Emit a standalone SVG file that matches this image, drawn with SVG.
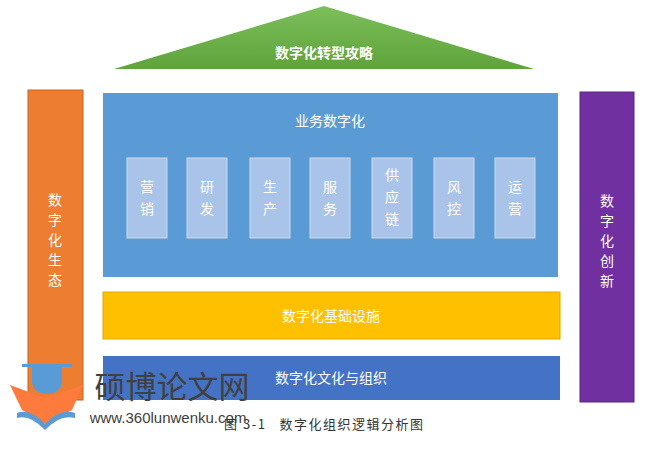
<svg xmlns="http://www.w3.org/2000/svg" width="658" height="454" viewBox="0 0 658 454">
<defs>
<linearGradient id="g" x1="0" y1="0" x2="0" y2="1"><stop offset="0" stop-color="#7cbf5a"/><stop offset="1" stop-color="#5fa33c"/></linearGradient>
<style>
text{font-family:"Noto Sans CJK SC","Liberation Sans",sans-serif;fill:#fff;text-anchor:middle}
.s{fill:#a9c4e8;stroke:#c9daf0;stroke-width:1}
.t{font-size:14px}
</style>
</defs>
<rect width="658" height="454" fill="#fff"/>
<g id="roof"><polygon points="114,69 324,6 534,69" fill="url(#g)"/><text x="324" y="58" font-size="14" font-weight="bold">数字化转型攻略</text></g>
<g id="eco"><rect x="28" y="90" width="55" height="310" fill="#ed7d31" stroke="#c5651f"/><text class="t" x="55" y="205">数</text><text class="t" x="55" y="225">字</text><text class="t" x="55" y="245">化</text><text class="t" x="55" y="265">生</text><text class="t" x="55" y="285">态</text></g>
<g id="innov"><rect x="580" y="92" width="54" height="310" fill="#7030a0" stroke="#5a2484"/><text class="t" x="607" y="206">数</text><text class="t" x="607" y="226">字</text><text class="t" x="607" y="246">化</text><text class="t" x="607" y="266">创</text><text class="t" x="607" y="286">新</text></g>
<g id="biz"><rect x="103" y="93" width="455" height="184" fill="#5b9bd5"/><text class="t" x="330" y="126">业务数字化</text></g>
<g id="m1"><rect class="s" x="127" y="158" width="40" height="80"/><text class="t" x="147" y="192">营</text><text class="t" x="147" y="214">销</text></g>
<g id="m2"><rect class="s" x="187" y="158" width="40" height="80"/><text class="t" x="207" y="192">研</text><text class="t" x="207" y="214">发</text></g>
<g id="m3"><rect class="s" x="250" y="158" width="40" height="80"/><text class="t" x="270" y="192">生</text><text class="t" x="270" y="214">产</text></g>
<g id="m4"><rect class="s" x="310" y="158" width="40" height="80"/><text class="t" x="330" y="192">服</text><text class="t" x="330" y="214">务</text></g>
<g id="m5"><rect class="s" x="372" y="158" width="40" height="80"/><text class="t" x="392" y="180">供</text><text class="t" x="392" y="202">应</text><text class="t" x="392" y="224">链</text></g>
<g id="m6"><rect class="s" x="434" y="158" width="40" height="80"/><text class="t" x="454" y="192">风</text><text class="t" x="454" y="214">控</text></g>
<g id="m7"><rect class="s" x="495" y="158" width="40" height="80"/><text class="t" x="515" y="192">运</text><text class="t" x="515" y="214">营</text></g>
<g id="infra"><rect x="103" y="292" width="457" height="47" fill="#ffc000" stroke="#e0a800"/><text class="t" x="331" y="321">数字化基础设施</text></g>
<g id="culture"><rect x="103" y="356" width="457" height="44" fill="#4472c4"/><text class="t" x="331" y="383">数字化文化与组织</text></g>
<g id="connectors"/>
<g id="watermark">
<path d="M10,385 L45,398 L83,385 L72,410 L45,424 L22,410 Z" fill="#ff7a3d"/>
<path d="M17,413 Q30,408 45,424 Q60,408 75,413 L75,418 Q60,414 45,430 Q30,414 17,418 Z" fill="#5b9bd5"/>
<rect x="22" y="364" width="50" height="3" fill="#5b9bd5"/>
<path d="M32,367 L62,367 L62,382 A15,12 0 0 1 32,382 Z" fill="#5b9bd5"/>
<text x="172" y="398" font-size="31" style="fill:#404040">硕博论文网</text>
<text x="168" y="423" font-size="15" style="fill:#404040;font-family:'Liberation Sans',sans-serif">www.360lunwenku.com</text>
</g>
<text x="224" y="429" font-size="13" letter-spacing="1.5" xml:space="preserve" style="fill:#333;text-anchor:start">图 3-1   数字化组织逻辑分析图</text>
</svg>
